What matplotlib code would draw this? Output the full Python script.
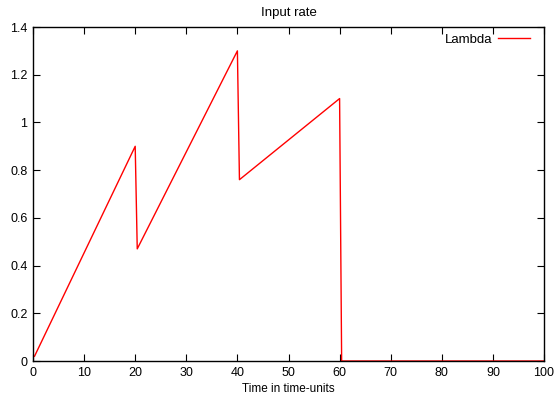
import numpy as np
import matplotlib.pyplot as plt

plt.rcParams['font.family'] = ['Liberation Sans', 'DejaVu Sans']

time = [0.3, 20.0, 20.4, 40.0, 40.4, 60.0, 60.4, 100.0]
rate = [0.02, 0.90, 0.47, 1.30, 0.76, 1.10, 0.0, 0.0]

xticks = np.arange(0, 101, 10)
yticks = [0, 0.2, 0.4, 0.6, 0.8, 1.0, 1.2, 1.4]
yticklabels = ['0', '0.2', '0.4', '0.6', '0.8', '1', '1.2', '1.4']

fig = plt.figure(figsize=(5.55, 4.01), dpi=100)
ax = fig.add_axes([33 / 555, 40 / 401, 511 / 555, 334 / 401])

ax.plot(time, rate, color='#ff0000', linewidth=1.0, label='Lambda')

ax.set_xlim(0, 100)
ax.set_ylim(0, 1.4)
ax.set_xticks(xticks)
ax.set_yticks(yticks)
ax.set_yticklabels(yticklabels)
ax.tick_params(direction='in', top=True, right=True, length=5, width=0.8,
               labelsize=9, pad=4, colors='black')
for s in ax.spines.values():
    s.set_linewidth(1.0)

ax.set_title('Input rate', fontsize=9.5, pad=8)
ax.set_xlabel('Time in time-units', fontsize=8.5, labelpad=3)

leg = ax.legend(loc='upper right', frameon=False, fontsize=9.5,
                handlelength=2.4, handletextpad=0.45, markerfirst=False,
                borderaxespad=0.1, bbox_to_anchor=(0.985, 1.0))

fig.savefig('out.png', dpi=100)
